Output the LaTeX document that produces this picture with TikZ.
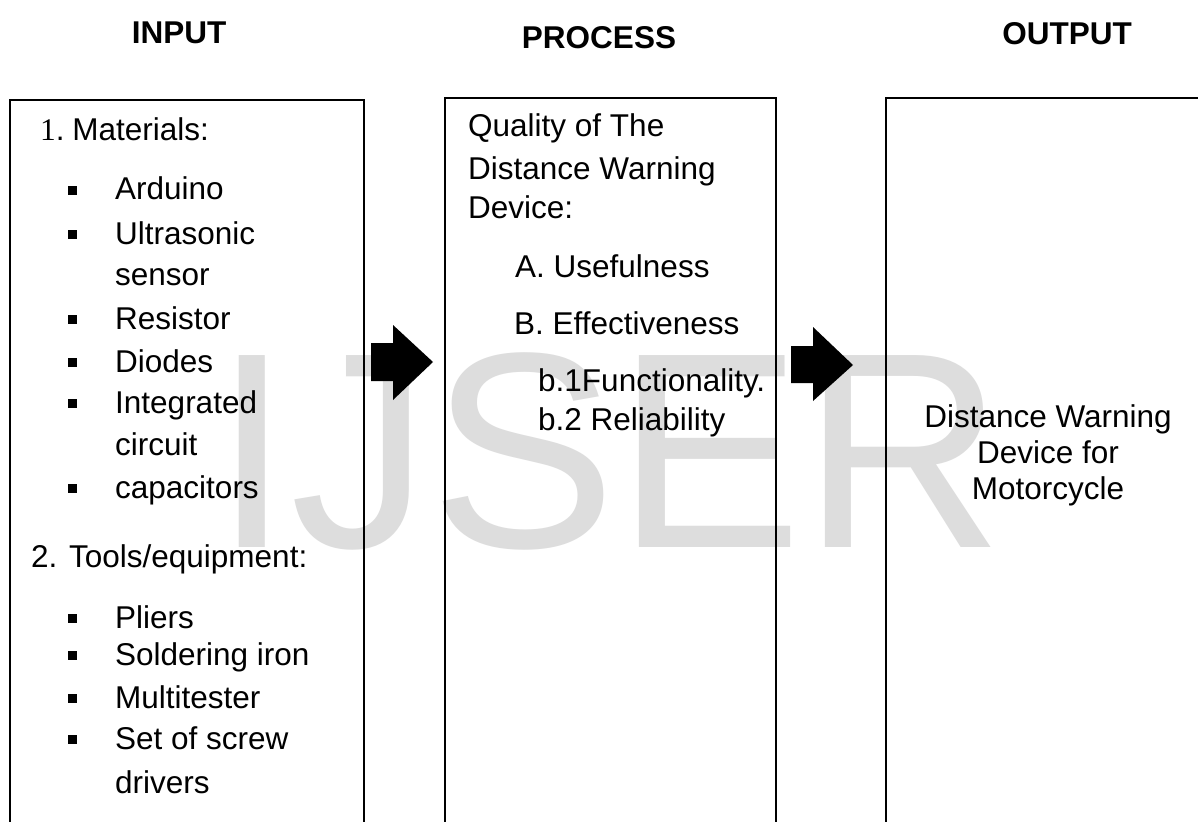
\documentclass[tikz,border=0pt]{standalone}
\usepackage{fontspec}
\setmainfont{Liberation Sans}
\newfontfamily\serifnum{Liberation Serif}
\definecolor{wmgray}{HTML}{DDDDDD}
\tikzset{
  txt/.style={anchor=base west, inner sep=0pt, font=\fontsize{31.5}{36}\selectfont},
  ctxt/.style={anchor=base, inner sep=0pt, font=\fontsize{31.5}{36}\selectfont},
  head/.style={anchor=base, inner sep=0pt, font=\fontsize{31.5}{36}\selectfont\bfseries},
  boxline/.style={draw=black, line width=2pt},
  blockarrow/.style={fill=black},
  bulletsq/.style={fill=black},
  watermark/.style={anchor=base west, inner sep=0pt, text=wmgray, font=\fontsize{279}{279}\selectfont}
}
\begin{document}
\begin{tikzpicture}[x=1pt,y=-1pt]
\useasboundingbox (0,0) rectangle (1198,821);
\clip (0,0) rectangle (1198,821);
\fill[white] (0,0) rectangle (1198,821);
% watermark
\node[watermark] (wm) at (213,547) {IJSER};
% headers
\node[head] (hin) at (179,44) {INPUT};
\node[head] (hpr) at (599,49) {PROCESS};
\node[head] (hout) at (1067,45) {OUTPUT};
% boxes
\draw[boxline] (10,100) rectangle (364,840);
\draw[boxline] (445,98) rectangle (776,840);
\draw[boxline] (886,98) rectangle (1230,840);
% input box text
\node[txt] (m1) at (40,141) {{\serifnum 1}.\kern-4pt{} Materials:};
\foreach \nm/\b/\t in {a1/200/Arduino, a2/244/Ultrasonic, a4/329/Resistor, a5/372/Diodes, a6/413/Integrated, a8/498/capacitors, t1/628/Pliers, t2/665/Soldering iron, t3/708/Multitester, t4/749/Set of screw}{
  \node[txt] (\nm) at (115,\b) {\t};
  \fill[bulletsq] (68,\b-14) rectangle (77,\b-5);
}
\node[txt] (a3) at (115,285) {sensor};
\node[txt] (a7) at (115,455) {circuit};
\node[txt] (t5) at (115,793) {drivers};
\node[txt] (m2) at (31,567) {2. Tools/equipment:};
% process box text
\node[txt] (p1) at (468,137) {Quality of The};
\node[txt] (p2) at (468,179) {Distance Warning};
\node[txt] (p3) at (468,218) {Device:};
\node[txt] (pA) at (515,277) {A. Usefulness};
\node[txt] (pB) at (514,334) {B. Effectiveness};
\node[txt] (pb1) at (538,391) {b.1Functionality.};
\node[txt] (pb2) at (538,430) {b.2 Reliability};
% output box text
\node[ctxt] (o1) at (1048,427) {Distance Warning};
\node[ctxt] (o2) at (1048,463) {Device for};
\node[ctxt] (o3) at (1048,499) {Motorcycle};
% block arrows
\fill[blockarrow] (371,343) -- (393,343) -- (393,325) -- (433,362) -- (393,400) -- (393,381) -- (371,381) -- cycle;
\fill[blockarrow] (791,346) -- (813,346) -- (813,327) -- (853,365) -- (813,401) -- (813,383) -- (791,383) -- cycle;
\end{tikzpicture}
\end{document}
